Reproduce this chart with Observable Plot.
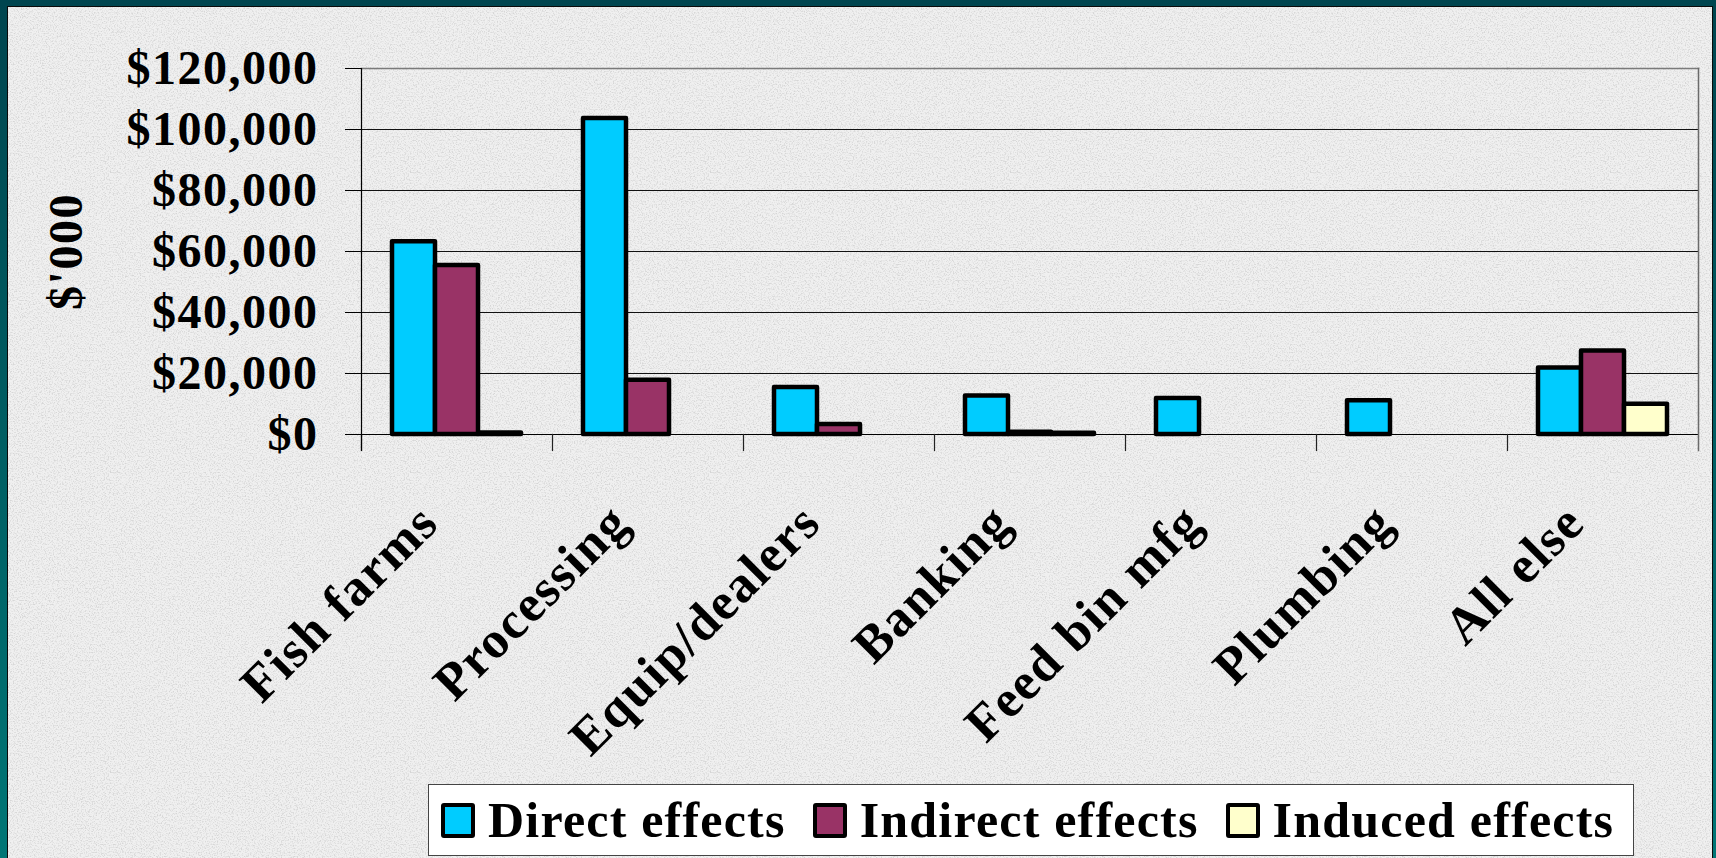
<!DOCTYPE html>
<html>
<head>
<meta charset="utf-8">
<script src="https://cdn.jsdelivr.net/npm/d3@7"></script>
<script src="https://cdn.jsdelivr.net/npm/@observablehq/plot@0.6"></script>
<style>
html, body { margin: 0; padding: 0; }
body { width: 1716px; height: 858px; overflow: hidden; position: relative;
  background: linear-gradient(to bottom, #00454f, #007676); }
#panel { position: absolute; left: 7px; top: 6px; width: 1706px; height: 852px; box-sizing: border-box;
  border-left: 1px solid #0a0a0a; border-top: 1px solid #0a0a0a; border-right: 1px solid #0a0a0a;
  background-color: #ebebeb; }
#chart { position: absolute; left: 0; top: 0; }
#chart svg text { letter-spacing: 1.5px; }
#legend { position: absolute; left: 428px; top: 784px; width: 1206px; height: 72px; box-sizing: border-box;
  background: #fff; border: 1px solid #444; display: flex; align-items: center; padding-left: 12px; }
.item { display: flex; align-items: center; margin-right: 27px; }
.sw { width: 26px; height: 27px; border: 4px solid #000; border-radius: 3px; margin-right: 13px; }
.lab { font: bold 50px "Liberation Serif", "Times New Roman", serif; letter-spacing: 1.2px; color: #000; white-space: nowrap; }
</style>
</head>
<body>
<div id="panel"></div>
<div id="chart"></div>
<div id="legend"></div>
<script>
// ---- data ($'000) ----
const categories = ["Fish farms", "Processing", "Equip/dealers", "Banking", "Feed bin mfg", "Plumbing", "All else"];
const series = ["Direct effects", "Indirect effects", "Induced effects"];
const direct   = [63200, 103600, 15400, 12600, 11800, 11100, 21800];
const indirect = [55400, 17800, 3300, 700, 0, 0, 27400];
const induced  = [500, 0, 0, 400, 0, 0, 9900];
const yTicks = [0, 20000, 40000, 60000, 80000, 100000, 120000];
const colors = ["#00CCFF", "#993366", "#FFFFCC"];
const yTitle = "$'000";

// granite-like texture for the slide panel
const noise = `<svg xmlns='http://www.w3.org/2000/svg' width='300' height='300'><filter id='f' x='0' y='0' width='100%' height='100%'><feTurbulence type='fractalNoise' baseFrequency='0.75' numOctaves='3' seed='7' stitchTiles='stitch'/><feColorMatrix type='matrix' values='0 0 0 0 0.62 0 0 0 0 0.62 0 0 0 0 0.62 3.4 0 0 0 -1.55'/></filter><rect width='300' height='300' fill='#f0f0f0'/><rect width='300' height='300' filter='url(#f)' opacity='0.75'/></svg>`;
document.getElementById("panel").style.backgroundImage = `url("data:image/svg+xml,${encodeURIComponent(noise)}")`;

const values = [direct, indirect, induced];
const table = categories.flatMap((c, i) => series.map((s, j) => ({category: c, series: s, value: values[j][i]})))
  .filter(d => d.value > 0);

const font = "Liberation Serif, Times New Roman, serif";
const fmt = d => "$" + d3.format(",")(d);

const chart = Plot.plot({
  width: 1716,
  height: 780,
  marginLeft: 361,
  marginRight: 18,
  marginTop: 68,
  marginBottom: 346,
  style: {background: "transparent", fontFamily: font, fontWeight: "bold", color: "#000", overflow: "visible"},
  fx: {domain: categories, padding: 0, axis: null, label: null},
  x: {domain: series, paddingInner: 0, paddingOuter: 0.72, axis: null, label: null},
  y: {domain: [0, 120000], axis: null},
  color: {domain: series, range: colors},
  marks: [
    Plot.gridY(yTicks.filter(t => t > 0 && t < 120000), {stroke: "#111", strokeOpacity: 1, strokeWidth: 1}),
    Plot.frame({anchor: "top", stroke: "#7a7a7a", strokeWidth: 1.5}),
    Plot.ruleY([0], {stroke: "#000", strokeWidth: 1.2}),
    Plot.barY(table, {fx: "category", x: "series", y: "value", fill: "series",
      stroke: "#000", strokeWidth: 4.5, strokeLinejoin: "round"}),
    Plot.frame({anchor: "left", insetTop: 366, insetBottom: -16, stroke: "#222", strokeWidth: 1.2}),
    Plot.frame({anchor: "left", facetAnchor: "left", insetBottom: -16, stroke: "#000", strokeWidth: 1.2}),
    Plot.frame({anchor: "right", facetAnchor: "right", insetBottom: -16, stroke: "#6a6a6a", strokeWidth: 1.5}),
    Plot.axisY({ticks: yTicks, tickFormat: fmt, tickSize: 16, tickPadding: 27, fontSize: 48,
      fontWeight: "bold", label: null, stroke: "#000"}),
    Plot.text([yTitle], {frameAnchor: "left", facetAnchor: "left", rotate: -90, lineAnchor: "bottom",
      textAnchor: "middle", dx: -280, fontSize: 48, fontWeight: "bold", fill: "#000"}),
    Plot.text(categories, {fx: d => d, text: d => d, frameAnchor: "bottom", rotate: -45,
      textAnchor: "end", lineAnchor: "bottom", dx: -16, dy: 91, fontSize: 52, fontWeight: "bold", fill: "#000"})
  ]
});
document.getElementById("chart").appendChild(chart);

// legend
const legend = document.getElementById("legend");
series.forEach((s, i) => {
  const item = document.createElement("div");
  item.className = "item";
  const sw = document.createElement("div");
  sw.className = "sw";
  sw.style.background = colors[i];
  const lab = document.createElement("span");
  lab.className = "lab";
  lab.textContent = s;
  item.appendChild(sw);
  item.appendChild(lab);
  legend.appendChild(item);
});
</script>
</body>
</html>
